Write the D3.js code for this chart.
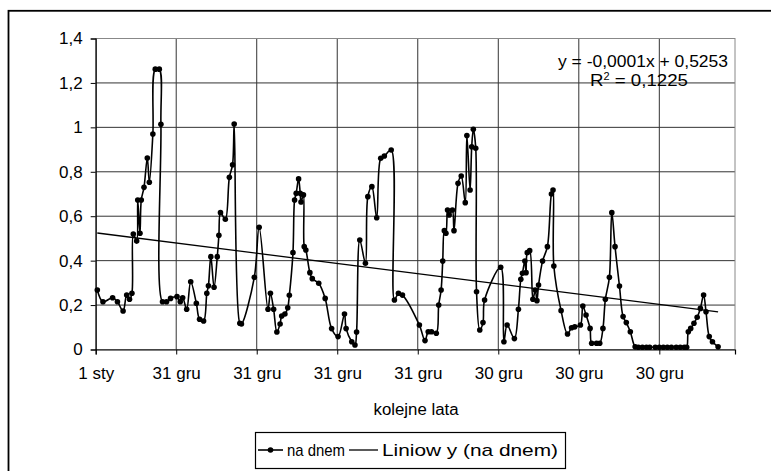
<!DOCTYPE html>
<html>
<head>
<meta charset="utf-8">
<script src="https://cdn.jsdelivr.net/npm/d3@7"></script>
<style>
  body { margin: 0; background: #fff; }
  svg text { font-family: "Liberation Sans", Arial, sans-serif; fill: #000; }
</style>
</head>
<body>
<script>
// lata od 1 sty (pozycja na osi), stezenie na dnem
var years = [0.02, 0.09, 0.21, 0.27, 0.34, 0.385, 0.42, 0.45, 0.467, 0.509, 0.522, 0.55, 0.566, 0.60, 0.641, 0.666, 0.71, 0.74, 0.79, 0.81,
  0.83, 0.88, 0.93, 1.01, 1.05, 1.08, 1.13, 1.18, 1.25, 1.29, 1.34, 1.38, 1.40, 1.43, 1.47, 1.51, 1.53, 1.55, 1.61, 1.66,
  1.70, 1.72, 1.79, 1.81, 1.97, 2.03, 2.14, 2.17, 2.21, 2.25, 2.29, 2.31, 2.35, 2.385, 2.405, 2.45, 2.47, 2.49, 2.52, 2.54,
  2.55, 2.58, 2.59, 2.61, 2.66, 2.69, 2.77, 2.85, 2.93, 3.01, 3.09, 3.11, 3.18, 3.22, 3.24, 3.28, 3.35, 3.38, 3.43, 3.49,
  3.54, 3.585, 3.67, 3.71, 3.76, 3.81, 4.02, 4.09, 4.13, 4.17, 4.23, 4.26, 4.29, 4.31, 4.33, 4.35, 4.37, 4.39, 4.43, 4.45,
  4.50, 4.54, 4.59, 4.61, 4.65, 4.67, 4.69, 4.72, 4.73, 4.77, 4.81, 4.83, 5.03, 5.07, 5.11, 5.20, 5.25, 5.28, 5.30, 5.33,
  5.345, 5.36, 5.39, 5.43, 5.46, 5.48, 5.50, 5.55, 5.61, 5.66, 5.68, 5.69, 5.78, 5.86, 5.91, 5.95, 6.02, 6.05, 6.09, 6.14,
  6.16, 6.22, 6.26, 6.30, 6.33, 6.38, 6.41, 6.45, 6.505, 6.55, 6.59, 6.64, 6.70, 6.74, 6.79, 6.84, 6.88, 6.95, 7.00, 7.05,
  7.10, 7.15, 7.21, 7.26, 7.31, 7.34, 7.36, 7.39, 7.43, 7.47, 7.51, 7.55, 7.58, 7.62, 7.66, 7.73];
var naDnem = [0.268, 0.215, 0.233, 0.215, 0.173, 0.245, 0.226, 0.253, 0.52, 0.488, 0.673, 0.523, 0.673, 0.73, 0.862, 0.753, 0.97, 1.262, 1.262, 1.014,
  0.215, 0.215, 0.23, 0.238, 0.215, 0.233, 0.181, 0.305, 0.208, 0.136, 0.128, 0.253, 0.287, 0.418, 0.28, 0.418, 0.514, 0.616, 0.586, 0.775,
  0.832, 1.015, 0.118, 0.115, 0.325, 0.55, 0.181, 0.253, 0.181, 0.079, 0.115, 0.151, 0.16, 0.188, 0.244, 0.436, 0.673, 0.703, 0.768, 0.703,
  0.664, 0.696, 0.463, 0.448, 0.346, 0.319, 0.298, 0.23, 0.094, 0.058, 0.16, 0.094, 0.035, 0.02, 0.079, 0.493, 0.388, 0.688, 0.733, 0.593,
  0.861, 0.871, 0.898, 0.223, 0.253, 0.245, 0.11, 0.04, 0.08, 0.08, 0.073, 0.2, 0.268, 0.398, 0.535, 0.523, 0.628, 0.606, 0.628, 0.535,
  0.748, 0.781, 0.661, 0.963, 0.718, 0.913, 0.991, 0.906, 0.26, 0.088, 0.121, 0.223, 0.37, 0.035, 0.11, 0.049, 0.181, 0.316, 0.343, 0.398,
  0.346, 0.436, 0.445, 0.226, 0.268, 0.22, 0.29, 0.398, 0.463, 0.70, 0.718, 0.376, 0.175, 0.07, 0.098, 0.102, 0.11, 0.196, 0.155, 0.095,
  0.028, 0.028, 0.028, 0.095, 0.226, 0.325, 0.616, 0.463, 0.286, 0.148, 0.121, 0.08, 0.012, 0.01, 0.01, 0.01, 0.01, 0.01, 0.01, 0.01,
  0.01, 0.01, 0.01, 0.01, 0.01, 0.01, 0.08, 0.095, 0.118, 0.145, 0.185, 0.245, 0.17, 0.058, 0.035, 0.012];

var xTickLabels = ["1 sty", "31 gru", "31 gru", "31 gru", "31 gru", "30 gru", "30 gru", "30 gru"];
var yTicks = [0, 0.2, 0.4, 0.6, 0.8, 1, 1.2, 1.4];

// linia trendu: y = a + b * dzien
var trendIntercept = 0.5253,
    trendSlope = -0.000126;

drawChart();

function drawChart(){
    var width = 771, height = 471;
    var mLeft = 95.7, mRight = 735, mTop = 38.5, mBottom = 349.5;
    var xMax = 7.94;

    var svg = d3.select("body").append("svg")
        .attr("width", width)
        .attr("height", height);

    // ramka wykresu
    svg.append("rect")
        .attr("x", 8.5).attr("y", 10.8)
        .attr("width", 900).attr("height", 600)
        .attr("fill", "none")
        .attr("stroke", "#000")
        .attr("stroke-width", 1.8);

    var x = d3.scaleLinear().domain([0, xMax]).range([mLeft, mRight]);
    var y = d3.scaleLinear().domain([0, 1.4]).range([mBottom, mTop]);

    var fmt = function(d){ return String(+d.toFixed(1)).replace(".", ","); };

    // siatka
    svg.append("g").selectAll("line")
        .data(yTicks.slice(1))
        .enter().append("line")
        .attr("x1", mLeft).attr("x2", mRight)
        .attr("y1", function(d){ return y(d); })
        .attr("y2", function(d){ return y(d); })
        .attr("stroke", "#333").attr("stroke-width", 1);

    svg.append("g").selectAll("line")
        .data(d3.range(1, xTickLabels.length))
        .enter().append("line")
        .attr("x1", function(d){ return x(d); })
        .attr("x2", function(d){ return x(d); })
        .attr("y1", mTop).attr("y2", mBottom)
        .attr("stroke", "#333").attr("stroke-width", 1);

    // obramowanie obszaru kreslenia
    svg.append("rect")
        .attr("x", mLeft).attr("y", mTop)
        .attr("width", mRight - mLeft).attr("height", mBottom - mTop)
        .attr("fill", "none").attr("stroke", "#888").attr("stroke-width", 1);

    // osie
    var yAxis = d3.axisLeft(y).tickValues(yTicks).tickFormat(fmt).tickSize(5).tickPadding(8);
    var gy = svg.append("g").attr("transform", "translate(" + mLeft + ",0)").call(yAxis);
    var xAxis = d3.axisBottom(x).tickValues(d3.range(0, xTickLabels.length))
        .tickFormat(function(d){ return xTickLabels[d]; }).tickSize(5).tickPadding(12);
    var gx = svg.append("g").attr("transform", "translate(0," + mBottom + ")").call(xAxis);

    [gx, gy].forEach(function(g){
        g.select(".domain").attr("stroke", "#000").attr("stroke-width", 1.2);
        g.selectAll(".tick line").attr("stroke", "#000");
        g.selectAll("text").style("font-family", "Liberation Sans, Arial, sans-serif")
            .style("font-size", "17px").attr("fill", "#000");
    });

    var pts = years.map(function(t, i){ return [t, naDnem[i]]; });

    // seria
    var line = d3.line()
        .x(function(d){ return x(d[0]); })
        .y(function(d){ return y(d[1]); })
        .curve(d3.curveCatmullRom.alpha(0.5));

    svg.append("path")
        .datum(pts)
        .attr("d", line)
        .attr("fill", "none")
        .attr("stroke", "#000")
        .attr("stroke-width", 1.6);

    svg.append("g").selectAll("circle")
        .data(pts)
        .enter().append("circle")
        .attr("cx", function(d){ return x(d[0]); })
        .attr("cy", function(d){ return y(d[1]); })
        .attr("r", 2.8)
        .attr("fill", "#000");

    // trend liniowy
    var t0 = years[0], t1 = years[years.length - 1];
    var trend = function(t){ return trendIntercept + trendSlope * t * 365.25; };
    svg.append("line")
        .attr("x1", x(t0)).attr("y1", y(trend(t0)))
        .attr("x2", x(t1)).attr("y2", y(trend(t1)))
        .attr("stroke", "#000").attr("stroke-width", 1.3);

    // rownanie
    svg.append("text")
        .attr("x", 728).attr("y", 67)
        .attr("text-anchor", "end")
        .attr("textLength", 170).attr("lengthAdjust", "spacingAndGlyphs")
        .style("font-size", "16px")
        .text("y = -0,0001x + 0,5253");
    var r2 = svg.append("text")
        .attr("x", 590).attr("y", 86)
        .attr("textLength", 98).attr("lengthAdjust", "spacingAndGlyphs")
        .style("font-size", "17px");
    r2.append("tspan").text("R");
    r2.append("tspan").attr("dy", -6).style("font-size", "10px").text("2");
    r2.append("tspan").attr("dy", 6).text(" = 0,1225");

    // opisy osi
    svg.append("clipPath").attr("id", "ylab")
        .append("rect").attr("x", 0).attr("y", 137).attr("width", 90).attr("height", 300);
    svg.append("text")
        .attr("clip-path", "url(#ylab)")
        .attr("transform", "translate(44,251) rotate(-90)")
        .attr("text-anchor", "start")
        .attr("textLength", 122).attr("lengthAdjust", "spacingAndGlyphs")
        .style("font-size", "16px")
        .text("mg P-PO4/dm3");

    svg.append("text")
        .attr("x", 416).attr("y", 415)
        .attr("text-anchor", "middle")
        .attr("textLength", 85).attr("lengthAdjust", "spacingAndGlyphs")
        .style("font-size", "16px")
        .text("kolejne lata");

    // legenda
    var lg = svg.append("g");
    lg.append("rect")
        .attr("x", 255.5).attr("y", 432.5)
        .attr("width", 310).attr("height", 36)
        .attr("fill", "#fff").attr("stroke", "#000").attr("stroke-width", 1.2);
    lg.append("line").attr("x1", 258).attr("x2", 283).attr("y1", 450).attr("y2", 450)
        .attr("stroke", "#000").attr("stroke-width", 1.6);
    lg.append("circle").attr("cx", 270.5).attr("cy", 450).attr("r", 2.8).attr("fill", "#000");
    lg.append("text").attr("x", 287).attr("y", 456)
        .attr("textLength", 58).attr("lengthAdjust", "spacingAndGlyphs")
        .style("font-size", "17px").text("na dnem");
    lg.append("line").attr("x1", 349).attr("x2", 378).attr("y1", 450).attr("y2", 450)
        .attr("stroke", "#000").attr("stroke-width", 1.3);
    lg.append("text").attr("x", 382).attr("y", 456)
        .attr("textLength", 176).attr("lengthAdjust", "spacingAndGlyphs")
        .style("font-size", "17px")
        .text("Liniow y (na dnem)");
}
</script>
</body>
</html>
